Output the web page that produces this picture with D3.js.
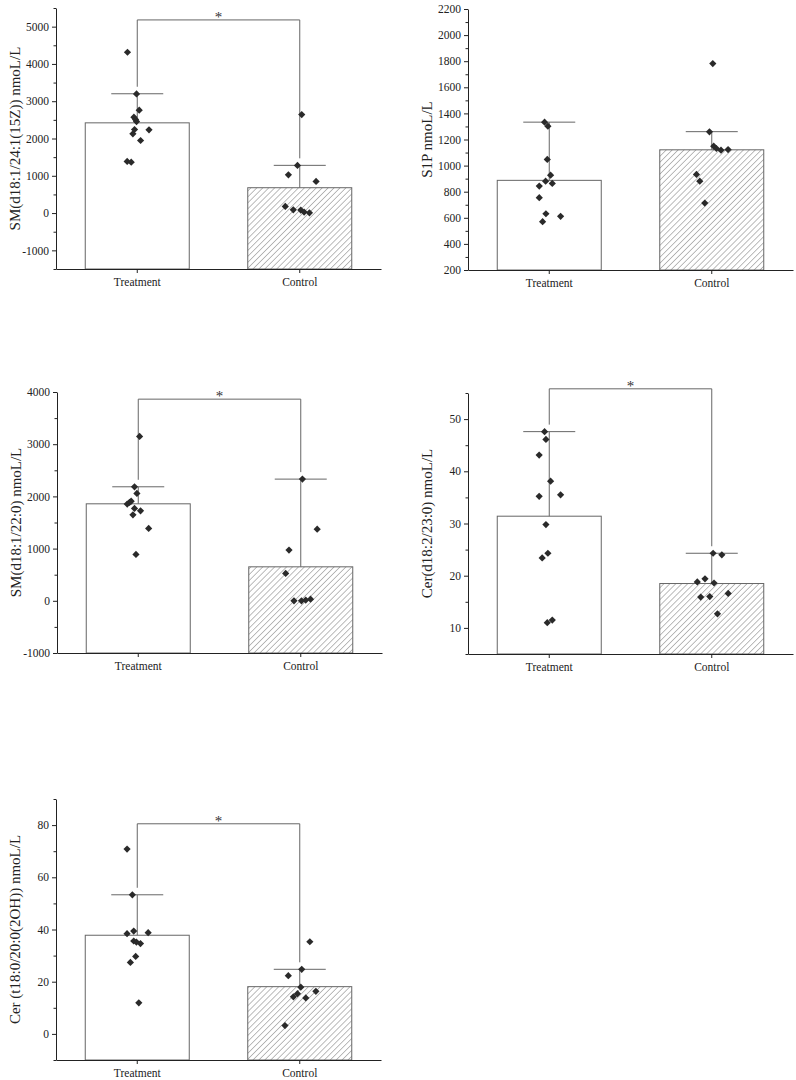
<!DOCTYPE html>
<html>
<head>
<meta charset="utf-8">
<script src="https://cdn.jsdelivr.net/npm/d3@7"></script>
<style>
  body { margin: 0; background: #fff; }
  svg { display: block; font-family: "Liberation Serif", "Times New Roman", serif; }
</style>
</head>
<body>
<svg id="mainSvg" width="796" height="1080"></svg>
<script>
// data
const groups = ["Treatment", "Control"];
const yLabels = [
  "SM(d18:1/24:1(15Z)) nmoL/L",
  "S1P nmoL/L",
  "SM(d18:1/22:0) nmoL/L",
  "Cer(d18:2/23:0) nmoL/L",
  "Cer (t18:0/20:0(2OH)) nmoL/L"
];
const yDomains = [[-1500, 5500], [200, 2200], [-1000, 4000], [5, 55], [-10, 90]];
const yTickStep = [1000, 200, 1000, 10, 20];
const means = [[2420, 680], [887, 1121], [1858, 651], [31.4, 18.5], [37.8, 18.1]];
const sds = [[780, 600], [446, 139], [326, 1680], [16.2, 5.8], [15.5, 6.65]];
const sigLevel = [5180, null, 3863, 55.8, 80.5];

const treatPts = [
  [4313, 3196, 2759, 2571, 2509, 2455, 2241, 2232, 2125, 1946, 1384, 1366],
  [1333, 1302, 1047, 927, 881, 863, 843, 754, 631, 611, 570],
  [3148, 2184, 2056, 1909, 1884, 1852, 1769, 1724, 1648, 1386, 888],
  [47.6, 46.1, 43.1, 38.1, 35.2, 35.5, 29.8, 24.3, 23.4, 11.0, 11.5],
  [70.8, 53.3, 39.4, 38.4, 38.8, 35.6, 35.2, 34.6, 29.7, 27.4, 11.9]
];
const controlPts = [
  [2643, 1277, 1027, 848, 177, 88, 80, 27, 8],
  [1782, 1259, 1149, 1131, 1118, 1123, 932, 881, 713],
  [2331, 1373, 971, 524, 0, 0, 13, 32],
  [24.3, 24.0, 18.8, 19.4, 18.6, 15.9, 16.0, 16.6, 12.7],
  [35.3, 24.75, 22.3, 17.9, 16.3, 15.4, 14.2, 13.8, 3.2]
];
// horizontal scatter of each point, as a share of bar width
const treatJitter = [
  [-0.094, -0.007, 0.019, -0.032, -0.016, -0.007, -0.026, 0.113, -0.042, 0.032, -0.097, -0.058],
  [-0.045, -0.013, -0.019, 0.013, -0.035, 0.029, -0.096, -0.096, -0.032, 0.109, -0.064],
  [0.013, -0.036, -0.013, -0.068, -0.084, -0.106, -0.036, 0.022, -0.051, 0.1, -0.022],
  [-0.045, -0.032, -0.097, 0.013, -0.097, 0.109, -0.032, -0.013, -0.068, -0.019, 0.029],
  [-0.098, -0.047, -0.034, -0.098, 0.105, -0.034, -0.008, 0.031, -0.015, -0.066, 0.015]
];
const controlJitter = [
  [0.019, -0.022, -0.109, 0.157, -0.139, -0.062, 0.010, 0.042, 0.093],
  [0.010, -0.022, 0.019, 0.045, 0.089, 0.157, -0.147, -0.115, -0.067],
  [0.016, 0.158, -0.113, -0.145, -0.065, 0.007, 0.048, 0.094],
  [0.013, 0.097, -0.139, -0.065, 0.022, -0.106, -0.019, 0.158, 0.055],
  [0.097, 0.019, -0.110, 0.010, 0.155, -0.022, -0.061, 0.058, -0.142]
];

// panel placement (axis origin top-left)
const origins = [[56, 8], [468, 9], [57, 392], [468, 393], [56, 799]];
const W = 325, H = 261;

let svg = d3.select('#mainSvg');
const grey = '#666';
const ink = '#222';

let defs = svg.append('defs');
defs.append('pattern')
  .attr('id', 'hatch')
  .attr('patternUnits', 'userSpaceOnUse')
  .attr('width', 4.2).attr('height', 10)
  .attr('patternTransform', 'rotate(45)')
  .append('line')
  .attr('x1', 0).attr('y1', 0).attr('x2', 0).attr('y2', 10)
  .attr('stroke', '#7a7a7a').attr('stroke-width', 1);

let diamond = d3.symbol().type(d3.symbolSquare).size(26);
let plain = d => String(d);

yLabels.forEach((label, i) => {
  let g = svg.append('g').attr('transform', `translate(${origins[i][0]},${origins[i][1]})`);
  let dom = yDomains[i];
  let y = d3.scaleLinear().domain(dom).range([H, 0]);
  let x = d3.scaleBand().domain(groups).range([0, W]).paddingInner(0.36).paddingOuter(0.18);
  let bw = x.bandwidth();
  let cx = k => x(groups[k]) + bw / 2;

  // bars
  g.selectAll('rect.bar').data(groups).join('rect')
    .attr('class', 'bar')
    .attr('x', d => x(d))
    .attr('y', (d, k) => y(means[i][k]))
    .attr('width', bw)
    .attr('height', (d, k) => H - y(means[i][k]))
    .attr('fill', (d, k) => k == 0 ? '#fff' : 'url(#hatch)')
    .attr('stroke', grey).attr('stroke-width', 1);

  // error bars (upper only)
  groups.forEach((d, k) => {
    let top = y(means[i][k] + sds[i][k]);
    g.append('line')
      .attr('x1', cx(k)).attr('x2', cx(k))
      .attr('y1', y(means[i][k])).attr('y2', top)
      .attr('stroke', grey);
    g.append('line')
      .attr('x1', cx(k) - 26).attr('x2', cx(k) + 26)
      .attr('y1', top).attr('y2', top)
      .attr('stroke', grey);
  });

  // significance bracket
  if (sigLevel[i] != null) {
    let sy = y(sigLevel[i]);
    let l0 = y(means[i][0] + sds[i][0]) - 7;
    let l1 = y(means[i][1] + sds[i][1]) - 7;
    g.append('path')
      .attr('d', `M${cx(0)},${l0}V${sy}H${cx(1)}V${l1}`)
      .attr('fill', 'none').attr('stroke', grey);
    g.append('text')
      .attr('x', (cx(0) + cx(1)) / 2).attr('y', sy + 2)
      .attr('text-anchor', 'middle')
      .attr('font-size', 15).attr('fill', '#333')
      .text('*');
  }

  // points
  let pts = [];
  treatPts[i].forEach((v, j) => pts.push({ k: 0, v: v, j: treatJitter[i][j] }));
  controlPts[i].forEach((v, j) => pts.push({ k: 1, v: v, j: controlJitter[i][j] }));
  g.selectAll('path.pt').data(pts).join('path')
    .attr('class', 'pt')
    .attr('d', diamond)
    .attr('transform', d => `translate(${cx(d.k) + d.j * bw},${y(d.v)}) rotate(45)`)
    .attr('fill', '#2a2a2a');

  // axes
  let step = yTickStep[i];
  let major = d3.range(Math.ceil(dom[0] / step) * step, dom[1] + 1e-9, step);
  let minor = d3.range(Math.ceil(dom[0] / (step / 2)) * (step / 2), dom[1] + 1e-9, step / 2)
    .filter(v => !major.some(m => Math.abs(m - v) < 1e-9));
  g.append('g')
    .call(d3.axisLeft(y).tickValues(minor).tickSize(2.5).tickFormat('').tickSizeOuter(0))
    .call(a => a.select('.domain').remove())
    .selectAll('line').attr('stroke', ink);
  let ya = g.append('g')
    .call(d3.axisLeft(y).tickValues(major).tickFormat(plain).tickSize(4).tickPadding(3).tickSizeOuter(0));
  ya.selectAll('text').attr('font-size', 11.5).attr('fill', ink).style('font-family', 'Liberation Serif');
  ya.selectAll('line, path').attr('stroke', ink);

  let xa = g.append('g').attr('transform', `translate(0,${H})`)
    .call(d3.axisBottom(x).tickSize(4).tickPadding(5).tickSizeOuter(0));
  xa.selectAll('text').attr('font-size', 11.5).attr('fill', ink).style('font-family', 'Liberation Serif');
  xa.selectAll('line, path').attr('stroke', ink);

  g.append('text')
    .attr('transform', `translate(-41,${H / 2}) rotate(-90)`)
    .attr('text-anchor', 'middle')
    .attr('dy', '0.35em')
    .attr('font-size', 15).attr('fill', ink)
    .text(label);
});
</script>
</body>
</html>
